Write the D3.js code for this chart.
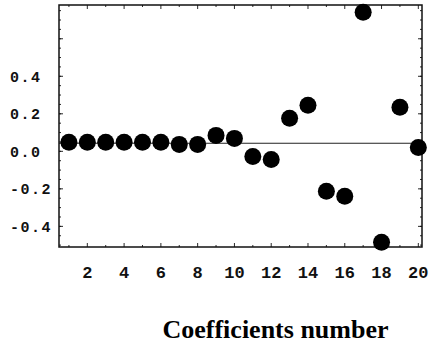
<!DOCTYPE html>
<html>
<head>
<meta charset="utf-8">
<script src="https://cdn.jsdelivr.net/npm/d3@7.9.0/dist/d3.min.js"></script>
<style>
  body { margin: 0; background: #fff; }
  svg { display: block; }
</style>
</head>
<body>
<svg width="433" height="343"></svg>
<script>
// coefficient index and value
const coefIndex = [1, 2, 3, 4, 5, 6, 7, 8, 9, 10, 11, 12, 13, 14, 15, 16, 17, 18, 19, 20];
const coefValue = [0.048, 0.048, 0.048, 0.048, 0.048, 0.048, 0.037, 0.037, 0.085, 0.069,
  -0.027, -0.043, 0.176, 0.245, -0.213, -0.240, 0.741, -0.485, 0.235, 0.021];
const refLine = 0.043;
const xTickVals = [2, 4, 6, 8, 10, 12, 14, 16, 18, 20];
const yTickVals = [-0.4, -0.2, 0.0, 0.2, 0.4];
const xLabel = 'Coefficients number';

const svg = d3.select('svg');
const pLeft = 59, pRight = 422, pTop = 5, pBottom = 247;

let x = d3.scaleLinear().domain([0.46, 20.2]).range([pLeft, pRight]);
let y = d3.scaleLinear().domain([-0.51, 0.78]).range([pBottom, pTop]);

// reference line
svg.append('line')
  .attr('x1', pLeft).attr('x2', pRight)
  .attr('y1', y(refLine)).attr('y2', y(refLine))
  .attr('stroke', '#222').attr('stroke-width', 1.2);

// frame ticks (inward)
const g = svg.append('g').attr('stroke', '#111');
const xMinor = d3.range(1, 21, 1);
const yMinor = d3.range(-0.5, 0.8, 0.05);
const yMajor = d3.range(-0.4, 0.7, 0.2);
xMinor.forEach((v) => {
  const len = v % 2 === 0 ? 4 : 2;
  g.append('line').attr('x1', x(v)).attr('x2', x(v)).attr('y1', pBottom).attr('y2', pBottom - len).attr('stroke-width', 0.9);
  g.append('line').attr('x1', x(v)).attr('x2', x(v)).attr('y1', pTop).attr('y2', pTop + len).attr('stroke-width', 0.9);
});
yMinor.forEach((v) => {
  g.append('line').attr('x1', pLeft).attr('x2', pLeft + 2).attr('y1', y(v)).attr('y2', y(v)).attr('stroke-width', 0.9);
  g.append('line').attr('x1', pRight).attr('x2', pRight - 2).attr('y1', y(v)).attr('y2', y(v)).attr('stroke-width', 0.9);
});
yMajor.forEach((v) => {
  g.append('line').attr('x1', pLeft).attr('x2', pLeft + 4).attr('y1', y(v)).attr('y2', y(v)).attr('stroke-width', 0.9);
  g.append('line').attr('x1', pRight).attr('x2', pRight - 4).attr('y1', y(v)).attr('y2', y(v)).attr('stroke-width', 0.9);
});

// frame
svg.append('rect')
  .attr('x', pLeft).attr('y', pTop)
  .attr('width', pRight - pLeft).attr('height', pBottom - pTop)
  .attr('fill', 'none').attr('stroke', '#111').attr('stroke-width', 1.5);

// points
svg.append('g').selectAll('circle')
  .data(coefIndex)
  .join('circle')
  .attr('cx', (d) => x(d))
  .attr('cy', (d, i) => y(coefValue[i]))
  .attr('r', 8.5)
  .attr('fill', '#000');

// y tick labels
svg.append('g').selectAll('text')
  .data(yTickVals)
  .join('text')
  .attr('x', 10)
  .attr('y', (d) => y(d) + 5.5)
  .attr('font-family', 'Liberation Mono, DejaVu Sans Mono, monospace')
  .attr('font-weight', 'bold')
  .attr('font-size', 15)
  .attr('letter-spacing', 1.5)
  .attr('fill', '#111')
  .text((d) => d3.format('.1f')(d).replace('−', '-'));

// x tick labels
svg.append('g').selectAll('text')
  .data(xTickVals)
  .join('text')
  .attr('x', (d) => x(d))
  .attr('y', 278)
  .attr('text-anchor', 'middle')
  .attr('font-family', 'Liberation Mono, DejaVu Sans Mono, monospace')
  .attr('font-weight', 'bold')
  .attr('font-size', 17)
  .attr('fill', '#111')
  .text((d) => d);

// axis title
svg.append('text')
  .attr('x', 275.5)
  .attr('y', 338)
  .attr('text-anchor', 'middle')
  .attr('font-family', 'Liberation Serif, Times New Roman, serif')
  .attr('font-weight', 'bold')
  .attr('font-size', 26)
  .attr('fill', '#000')
  .text(xLabel);
</script>
</body>
</html>
